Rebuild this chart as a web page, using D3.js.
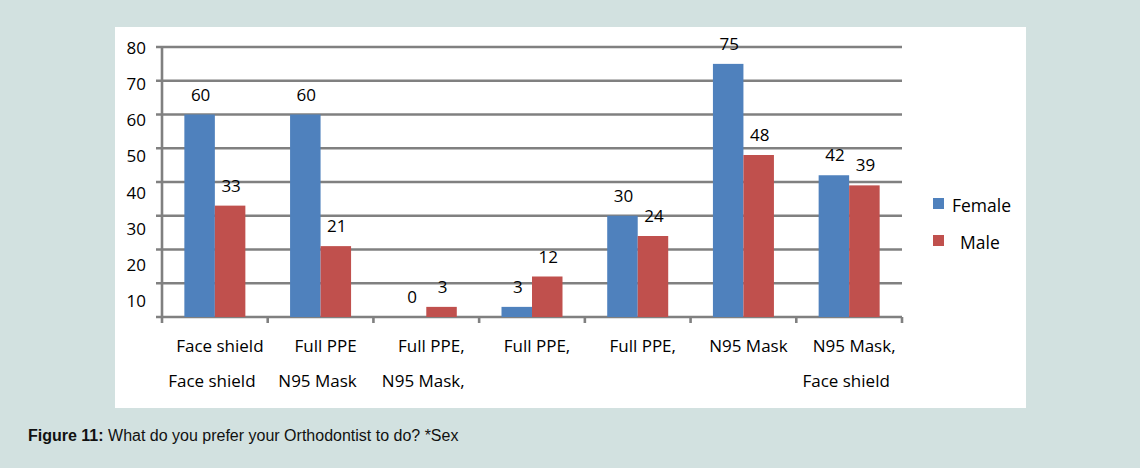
<!DOCTYPE html>
<html lang="en">
<head>
<meta charset="utf-8">
<title>Figure 11</title>
<script src="https://cdn.jsdelivr.net/npm/d3@7"></script>
<style>
  body { margin: 0; background: #d2e1e0; }
  svg { display: block; }
</style>
</head>
<body>
<script>
// data
var categories = ["c1", "c2", "c3", "c4", "c5", "c6", "c7"];
var labelsRow1 = ["Face shield", "Full PPE", "Full PPE,", "Full PPE,", "Full PPE,", "N95 Mask", "N95 Mask,"];
var labelsRow2 = ["Face shield", "N95 Mask", "N95 Mask,", "", "", "", "Face shield"];
var series = ["Female", "Male"];
var female = [60, 60, 0, 3, 30, 75, 42];
var male = [33, 21, 3, 12, 24, 48, 39];
var gridValues = [10, 20, 30, 40, 50, 60, 70, 80];
var yTickLabels = ["80", "70", "60", "50", "40", "30", "20", "10"];
var colors = ["#4f81bd", "#c0504d"];

var w = 1140, h = 468;
var font = "'Open Sans', sans-serif";

var svg = d3.select("body").append("svg")
  .attr("width", w)
  .attr("height", h);

// white chart panel
svg.append("rect")
  .attr("x", 115).attr("y", 27)
  .attr("width", 911).attr("height", 381)
  .attr("fill", "white");

var x0 = d3.scaleBand().domain(categories).range([162, 902]);
var x1 = d3.scaleBand().domain(series).range([0, x0.bandwidth()]).paddingOuter(0.733);
var y = d3.scaleLinear().domain([0, 80]).range([317, 47]);
var color = d3.scaleOrdinal().domain(series).range(colors);

// gridlines
svg.selectAll("line.grid")
  .data([0].concat(gridValues))
  .enter().append("line")
  .attr("x1", 156).attr("x2", 902)
  .attr("y1", function(d) { return y(d); })
  .attr("y2", function(d) { return y(d); })
  .attr("stroke", "#808080")
  .attr("stroke-width", 2.6);

// y axis line
svg.append("line")
  .attr("x1", 162).attr("x2", 162)
  .attr("y1", y(80)).attr("y2", 323)
  .attr("stroke", "#808080")
  .attr("stroke-width", 2.6);

// x ticks at band edges
var edges = categories.map(function(c) { return x0(c); }).concat([x0.range()[1]]);
svg.selectAll("line.xtick")
  .data(edges.slice(1))
  .enter().append("line")
  .attr("x1", function(d) { return d; })
  .attr("x2", function(d) { return d; })
  .attr("y1", y(0)).attr("y2", 323)
  .attr("stroke", "#808080")
  .attr("stroke-width", 2.6);

// y tick labels (placed as in the figure)
var yl = d3.scalePoint().domain(yTickLabels).range([54, 307]);
svg.selectAll("text.ytick")
  .data(yTickLabels)
  .enter().append("text")
  .attr("x", 146)
  .attr("y", function(d) { return yl(d); })
  .attr("text-anchor", "end")
  .attr("font-family", font)
  .attr("font-size", "17px")
  .attr("fill", "#000")
  .text(function(d) { return d; });

// bars
var rows = categories.map(function(c, i) {
  return { cat: c, values: [{ s: "Female", v: female[i] }, { s: "Male", v: male[i] }] };
});

var groups = svg.selectAll("g.cat")
  .data(rows)
  .enter().append("g")
  .attr("transform", function(d) { return "translate(" + x0(d.cat) + ",0)"; });

groups.selectAll("rect")
  .data(function(d) { return d.values; })
  .enter().append("rect")
  .attr("x", function(d) { return x1(d.s); })
  .attr("y", function(d) { return y(d.v); })
  .attr("width", x1.bandwidth())
  .attr("height", function(d) { return y(0) - y(d.v); })
  .attr("fill", function(d) { return color(d.s); });

groups.selectAll("text")
  .data(function(d) { return d.values; })
  .enter().append("text")
  .attr("x", function(d) { return x1(d.s) + x1.bandwidth() / 2 + 1; })
  .attr("y", function(d) { return y(d.v) - 14; })
  .attr("text-anchor", "middle")
  .attr("font-family", font)
  .attr("font-size", "17px")
  .attr("fill", "#000")
  .text(function(d) { return d.v; });

// category labels, two rows
svg.selectAll("text.row1")
  .data(categories)
  .enter().append("text")
  .attr("x", function(d) { return x0(d) + x0.bandwidth() / 2 + 5; })
  .attr("y", 352)
  .attr("text-anchor", "middle")
  .attr("font-family", font)
  .attr("font-size", "17px")
  .attr("fill", "#000")
  .text(function(d, i) { return labelsRow1[i]; });

svg.selectAll("text.row2")
  .data(categories)
  .enter().append("text")
  .attr("x", function(d) { return x0(d) + x0.bandwidth() / 2 - 3; })
  .attr("y", 387)
  .attr("text-anchor", "middle")
  .attr("font-family", font)
  .attr("font-size", "17px")
  .attr("fill", "#000")
  .text(function(d, i) { return labelsRow2[i]; });

// legend
var ly = d3.scalePoint().domain(series).range([198, 235]);
var legend = svg.selectAll("g.legend")
  .data(series)
  .enter().append("g")
  .attr("transform", function(d) { return "translate(933," + ly(d) + ")"; });

legend.append("rect")
  .attr("width", 11).attr("height", 11)
  .attr("fill", function(d) { return color(d); });

legend.append("text")
  .attr("x", function(d, i) { return i === 0 ? 19 : 27; })
  .attr("y", 14)
  .attr("font-family", font)
  .attr("font-size", "17.5px")
  .attr("fill", "#000")
  .text(function(d) { return d; });

// caption
var cap = svg.append("text")
  .attr("x", 28).attr("y", 441)
  .attr("font-family", "'Liberation Sans', Arial, sans-serif")
  .attr("font-size", "16px")
  .attr("fill", "#111");
cap.append("tspan").attr("font-weight", "bold").text("Figure 11:");
cap.append("tspan").text(" What do you prefer your Orthodontist to do? *Sex");
</script>
</body>
</html>
